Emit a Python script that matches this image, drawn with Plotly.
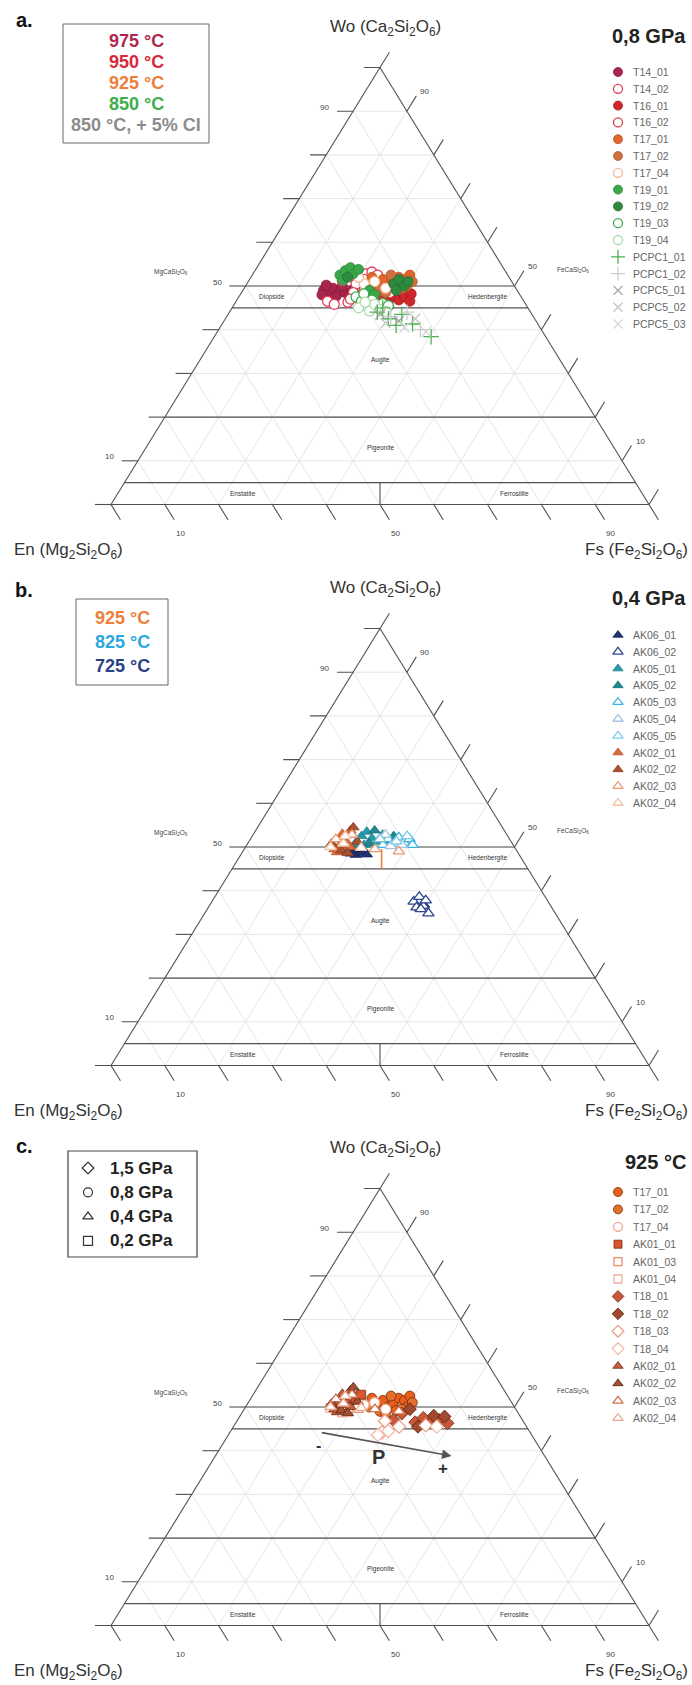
import plotly.graph_objects as go

W, H = 692, 1685
FONT = "Liberation Sans, Arial, Helvetica, sans-serif"

# ---------------- compositions (mol %): Wo and Fs, En = 100 - Wo - Fs ----------------
# panel a : 0,8 GPa
T14_01_wo = [49.0, 48.2, 49.5, 48.0, 49.2, 48.5, 47.8, 50.2, 47.6, 50.0, 49.0, 48.0]
T14_01_fs = [15.0, 16.4, 16.5, 18.0, 18.2, 19.3, 20.3, 14.9, 18.0, 18.0, 20.3, 15.2]
T14_02_wo = [46.5, 45.8, 46.3, 47.0, 52.8, 53.2, 52.5, 51.5, 50.5, 51.0, 51.2, 49.5]
T14_02_fs = [17.0, 18.6, 20.9, 22.5, 21.1, 21.9, 23.3, 21.3, 20.3, 25.0, 17.4, 23.3]
T16_01_wo = [47.5, 46.5, 47.8, 46.8, 47.5, 46.5, 48.2, 46.2, 49.0, 48.0]
T16_01_fs = [26.8, 28.3, 28.6, 30.1, 30.8, 32.3, 31.7, 26.4, 28.5, 22.5]
T16_02_wo = [48.5, 48.8, 47.2, 47.0, 48.5]
T16_02_fs = [20.8, 22.6, 25.2, 21.0, 27.6]
T17_01_wo = [50.5, 51.5, 50.0, 51.0, 52.0, 51.5, 52.5, 50.0, 49.2, 52.0]
T17_01_fs = [24.3, 24.8, 26.5, 27.0, 27.5, 28.8, 29.3, 30.0, 28.4, 22.5]
T17_02_wo = [49.0, 48.5, 49.5, 51.0, 52.5, 50.0]
T17_02_fs = [25.5, 26.8, 29.3, 30.5, 25.8, 23.0]
T17_04_wo = [50.5, 51.0, 49.5, 52.0]
T17_04_fs = [21.8, 23.5, 26.3, 20.0]
T19_01_wo = [52.5, 53.5, 54.2, 52.8, 51.3, 53.8, 49.0, 48.0]
T19_01_fs = [16.3, 16.8, 17.4, 18.6, 17.4, 19.1, 23.5, 25.0]
T19_02_wo = [50.5, 51.5, 50.0, 51.0, 49.0, 52.0]
T19_02_fs = [27.3, 27.8, 29.5, 29.7, 28.5, 18.0]
T19_03_wo = [47.5, 46.5, 45.5, 46.8, 45.2, 46.0, 45.5, 48.2]
T19_03_fs = [21.8, 23.3, 24.8, 25.1, 26.9, 27.5, 28.8, 22.9]
T19_04_wo = [45.0, 44.3, 45.8, 44.6, 46.3, 44.2]
T19_04_fs = [23.5, 25.9, 26.1, 27.7, 24.1, 28.9]
PCPC1_01_wo = [44.0, 42.5, 43.5, 41.3, 41.0, 38.4, 45.0]
PCPC1_01_fs = [27.5, 30.3, 32.3, 35.4, 32.5, 40.3, 28.0]
PCPC1_02_wo = [43.0, 40.0, 44.0]
PCPC1_02_fs = [30.5, 37.5, 33.0]
PCPC5_01_wo = [43.5, 42.0]
PCPC5_01_fs = [28.3, 32.5]
PCPC5_02_wo = [41.5, 42.5]
PCPC5_02_fs = [30.3, 35.3]
PCPC5_03_wo = [40.5, 39.5]
PCPC5_03_fs = [34.3, 38.8]

# panel b : 0,4 GPa
AK06_01_wo = [48.5, 48.2, 48.6, 48.3, 49.3, 49.5, 49.0, 36.0, 36.8]
AK06_01_fs = [20.3, 21.4, 22.2, 23.4, 20.4, 22.1, 19.3, 39.5, 39.8]
AK06_02_wo = [37.5, 38.6, 36.2, 36.5, 34.8, 35.8, 37.8]
AK06_02_fs = [37.5, 38.0, 38.7, 39.8, 41.6, 39.7, 39.6]
AK05_01_wo = [51.0, 52.5, 53.5, 52.0, 51.2, 50.5, 52.8]
AK05_01_fs = [20.0, 20.3, 20.8, 22.5, 23.9, 21.8, 24.1]
AK05_02_wo = [50.0, 50.8, 51.5, 52.5, 53.8]
AK05_02_fs = [21.0, 22.6, 25.8, 26.3, 22.1]
AK05_03_wo = [50.5, 51.8, 50.8, 52.2, 51.0, 51.8, 50.5]
AK05_03_fs = [25.3, 25.6, 27.1, 27.4, 29.0, 29.6, 30.8]
AK05_04_wo = [50.2, 50.5, 52.8]
AK05_04_fs = [26.9, 28.8, 24.6]
AK05_05_wo = [51.3, 52.5, 51.8]
AK05_05_fs = [27.4, 28.8, 24.1]
AK02_01_wo = [49.5, 50.5, 51.5, 48.8, 50.0, 52.3, 53.0, 53.8]
AK02_01_fs = [16.8, 17.3, 17.8, 17.6, 19.5, 16.9, 16.5, 17.6]
AK02_02_wo = [49.2, 48.6, 51.2, 50.8, 54.5]
AK02_02_fs = [18.2, 19.7, 20.2, 15.6, 17.8]
AK02_03_wo = [51.8, 52.8, 49.0, 49.5]
AK02_03_fs = [15.9, 18.4, 29.0, 24.3]
AK02_04_wo = [50.0, 50.8, 49.8, 52.5]
AK02_04_fs = [15.8, 17.8, 21.6, 17.3]
AK02_RANGE_wo = [49.5, 45.0]
AK02_RANGE_fs = [25.55, 27.8]

# panel c : 925 °C (T17 and AK02 shared with panels a and b)
AK01_01_wo = [50.5, 51.5, 50.2, 52.0, 51.0, 52.8]
AK01_01_fs = [16.3, 16.8, 18.4, 18.5, 20.0, 20.1]
AK01_03_wo = [49.5, 49.0, 49.8]
AK01_03_fs = [17.3, 19.5, 21.1]
AK01_04_wo = [49.8, 48.8]
AK01_04_fs = [15.9, 18.6]
T18_01_wo = [46.5, 47.5, 46.5, 47.0, 46.3, 48.5, 47.0]
T18_01_fs = [33.3, 34.3, 36.3, 37.5, 39.4, 29.8, 29.0]
T18_02_wo = [48.0, 47.8, 45.5, 49.5]
T18_02_fs = [36.0, 38.1, 34.3, 30.8]
T18_03_wo = [45.5, 45.8, 44.2, 46.8]
T18_03_fs = [30.8, 35.6, 28.3, 27.5]
T18_04_wo = [44.5, 45.5, 43.6]
T18_04_fs = [29.3, 37.8, 27.8]
P_ARROW_wo = [44.2, 38.8]
P_ARROW_fs = [16.8, 43.9]

# diagram furniture
GRID_VALS = [10, 20, 30, 40, 50, 60, 70, 80, 90]
TICK_VALS = [0, 10, 20, 30, 40, 50, 60, 70, 80, 90, 100]
LABEL_TICKS = [10, 50, 90]
BOUND_WO = [50, 45, 20, 5]
REGION_NAMES = ["Diopside", "Hedenbergite", "Augite", "Pigeonite", "Enstatite", "Ferrosilite"]
REGION_WO = [47.5, 47.5, 33.0, 13.0, 2.5, 2.5]
REGION_FS = [6.25, 46.25, 33.5, 43.5, 23.3, 73.8]
PANEL_LETTERS = ["a.", "b.", "c."]
PANEL_HEADS = ["0,8 GPa", "0,4 GPa", "925 °C"]
BOX_A_TEXT = ["975 °C", "950 °C", "925 °C", "850 °C", "850 °C, + 5% Cl"]
BOX_A_COLORS = ["#b0284e", "#d8283a", "#ee7e3a", "#3cae4a", "#8c8c8c"]
BOX_B_TEXT = ["925 °C", "825 °C", "725 °C"]
BOX_B_COLORS = ["#ee7e3a", "#2aa8e0", "#2b3f86"]
BOX_C_TEXT = ["1,5 GPa", "0,8 GPa", "0,4 GPa", "0,2 GPa"]
BOX_C_SYMBOLS = ["diamond-open", "circle-open", "triangle-up-open", "square-open"]

# ---------------- layout geometry (pixels) ----------------
SX, X0PX = 5.38, 111.0            # px per unit of (Fs + Wo/2), x of En corner
SY = 4.37                          # px per unit of Wo
WO50_PX = [286.0, 847.0, 1407.0]   # y of the Wo = 50 line in each panel
BASES = [p + 50 * SY for p in WO50_PX]
TOPPAD, BOTPAD = 62.0, 58.0


def filled(sym, fill, edge, size=10):
    return dict(symbol=sym, size=size, color=fill, line=dict(color=edge, width=0.8))


def hollow(sym, edge, size=10):
    return dict(symbol=sym, size=size, color="white", line=dict(color=edge, width=1.3))


def stroke(sym, edge, size=10):
    return dict(symbol=sym, size=size, color=edge, line=dict(color=edge, width=1.3))


SER_A = [
    ("T14_01", T14_01_wo, T14_01_fs, filled("circle", "#a8254c", "#861c3c")),
    ("T14_02", T14_02_wo, T14_02_fs, hollow("circle", "#e0405a")),
    ("T16_01", T16_01_wo, T16_01_fs, filled("circle", "#d0262c", "#a81c22")),
    ("T16_02", T16_02_wo, T16_02_fs, hollow("circle", "#d83a4a")),
    ("T17_01", T17_01_wo, T17_01_fs, filled("circle", "#e0662e", "#c0521e")),
    ("T17_02", T17_02_wo, T17_02_fs, filled("circle", "#d0703c", "#a85a2c")),
    ("T17_04", T17_04_wo, T17_04_fs, hollow("circle", "#f4b894")),
    ("T19_01", T19_01_wo, T19_01_fs, filled("circle", "#3aa84a", "#2c8a3a")),
    ("T19_02", T19_02_wo, T19_02_fs, filled("circle", "#2e8a3e", "#236e30")),
    ("T19_03", T19_03_wo, T19_03_fs, hollow("circle", "#3aa84a")),
    ("T19_04", T19_04_wo, T19_04_fs, hollow("circle", "#a8dca8")),
    ("PCPC1_01", PCPC1_01_wo, PCPC1_01_fs, stroke("cross-thin", "#4cb050", 11)),
    ("PCPC1_02", PCPC1_02_wo, PCPC1_02_fs, stroke("cross-thin", "#cccccc", 11)),
    ("PCPC5_01", PCPC5_01_wo, PCPC5_01_fs, stroke("x-thin", "#a0a0a0")),
    ("PCPC5_02", PCPC5_02_wo, PCPC5_02_fs, stroke("x-thin", "#c4c4c4")),
    ("PCPC5_03", PCPC5_03_wo, PCPC5_03_fs, stroke("x-thin", "#d4d4d4")),
]
SER_B = [
    ("AK06_01", AK06_01_wo, AK06_01_fs, filled("triangle-up", "#1f3270", "#1a2a5e")),
    ("AK06_02", AK06_02_wo, AK06_02_fs, hollow("triangle-up", "#2e4590")),
    ("AK05_01", AK05_01_wo, AK05_01_fs, filled("triangle-up", "#2a9aaa", "#1f8090")),
    ("AK05_02", AK05_02_wo, AK05_02_fs, filled("triangle-up", "#1d8890", "#166e76")),
    ("AK05_03", AK05_03_wo, AK05_03_fs, hollow("triangle-up", "#36b4e4")),
    ("AK05_04", AK05_04_wo, AK05_04_fs, hollow("triangle-up", "#a6c4e0")),
    ("AK05_05", AK05_05_wo, AK05_05_fs, hollow("triangle-up", "#78cce8")),
    ("AK02_01", AK02_01_wo, AK02_01_fs, filled("triangle-up", "#dc6a3a", "#b8542a")),
    ("AK02_02", AK02_02_wo, AK02_02_fs, filled("triangle-up", "#a85030", "#8a3e22")),
    ("AK02_03", AK02_03_wo, AK02_03_fs, hollow("triangle-up", "#e89a70")),
    ("AK02_04", AK02_04_wo, AK02_04_fs, hollow("triangle-up", "#f2c4a8")),
]
SER_C = [
    ("T17_01", T17_01_wo, T17_01_fs, filled("circle", "#e8601e", "#7a2a0c")),
    ("T17_02", T17_02_wo, T17_02_fs, filled("circle", "#e0702a", "#7a2a0c")),
    ("T17_04", T17_04_wo, T17_04_fs, hollow("circle", "#f2a88c")),
    ("AK01_01", AK01_01_wo, AK01_01_fs, filled("square", "#d8582e", "#7a2a0c", 9)),
    ("AK01_03", AK01_03_wo, AK01_03_fs, hollow("square", "#e88e66", 9)),
    ("AK01_04", AK01_04_wo, AK01_04_fs, hollow("square", "#f2b2a0", 9)),
    ("T18_01", T18_01_wo, T18_01_fs, filled("diamond", "#c85838", "#6a2a10")),
    ("T18_02", T18_02_wo, T18_02_fs, filled("diamond", "#a04830", "#5a2008")),
    ("T18_03", T18_03_wo, T18_03_fs, hollow("diamond", "#eca08c")),
    ("T18_04", T18_04_wo, T18_04_fs, hollow("diamond", "#f2bcac")),
    ("AK02_01", AK02_01_wo, AK02_01_fs, filled("triangle-up", "#c46040", "#6a2a10")),
    ("AK02_02", AK02_02_wo, AK02_02_fs, filled("triangle-up", "#a25034", "#5a2008")),
    ("AK02_03", AK02_03_wo, AK02_03_fs, hollow("triangle-up", "#d07050")),
    ("AK02_04", AK02_04_wo, AK02_04_fs, hollow("triangle-up", "#eaa890")),
]
SERIES = [SER_A, SER_B, SER_C]
LEG_Y0 = [72.0, 635.0, 1192.0]
LEG_DY = [16.8, 16.8, 17.4]
HEAD_Y = [36.0, 598.0, 1162.0]
LETTER_Y = [20.0, 590.0, 1146.0]


def proj(wo, fs):
    return [f + w / 2.0 for w, f in zip(wo, fs)], list(wo)


def seg_xy(pairs):
    xs, ys = [], []
    for (w1, f1), (w2, f2) in pairs:
        xs += [f1 + w1 / 2.0, f2 + w2 / 2.0, None]
        ys += [w1, w2, None]
    return xs, ys


fig = go.Figure()
ann = []
shapes = []

for k in range(3):
    xr = "x" if k == 0 else "x%d" % (k + 1)
    yr = "y" if k == 0 else "y%d" % (k + 1)

    grid = []
    for v in GRID_VALS:
        grid.append(((v, 0), (v, 100 - v)))
        grid.append(((0, v), (100 - v, v)))
        grid.append(((0, 100 - v), (100 - v, 0)))
    gx, gy = seg_xy(grid)
    fig.add_trace(go.Scatter(x=gx, y=gy, xaxis=xr, yaxis=yr, mode="lines",
                             line=dict(color="#e0e0e0", width=0.8), hoverinfo="skip", showlegend=False))

    frame = [((0, 0), (0, 100)), ((0, 0), (100, 0)), ((100, 0), (0, 100))]
    for v in BOUND_WO:
        frame.append(((v, 0), (v, 100 - v)))
    frame.append(((0, 50), (5, 47.5)))
    for v in TICK_VALS:
        frame.append(((v, 0), (v, -3)))
        frame.append(((v, 100 - v), (v + 3.5, 100 - v)))
        frame.append(((0, v), (-3.5, v + 3.5)))
    fx, fy = seg_xy(frame)
    fig.add_trace(go.Scatter(x=fx, y=fy, xaxis=xr, yaxis=yr, mode="lines",
                             line=dict(color="#505050", width=1.1), hoverinfo="skip", showlegend=False))

    if k == 1:
        rx, ry = proj(AK02_RANGE_wo, AK02_RANGE_fs)
        fig.add_trace(go.Scatter(x=rx, y=ry, xaxis=xr, yaxis=yr, mode="lines",
                                 line=dict(color="#e8823e", width=1.6), hoverinfo="skip", showlegend=False))

    for name, wo, fs, mk in SERIES[k]:
        px_, py_ = proj(wo, fs)
        fig.add_trace(go.Scatter(x=px_, y=py_, xaxis=xr, yaxis=yr, mode="markers", name=name,
                                 marker=mk, showlegend=False))

    small = dict(family=FONT, size=8, color="#444")
    for v in LABEL_TICKS:
        lx, ly = proj([v], [0])
        ann.append(dict(x=lx[0], y=ly[0], xref=xr, yref=yr, text=str(v), showarrow=False,
                        xanchor="right", xshift=-22, yshift=4, font=small))
        rx_, ry_ = proj([v + 3.5], [100 - v])
        ann.append(dict(x=rx_[0], y=ry_[0], xref=xr, yref=yr, text=str(v), showarrow=False,
                        xanchor="left", xshift=2, yshift=4, font=small))
        bx, by = proj([-3.5], [v + 3.5])
        ann.append(dict(x=bx[0], y=by[0], xref=xr, yref=yr, text=str(v), showarrow=False,
                        xanchor="center", xshift=6, yshift=-14, font=small))
    mx, my = proj([50], [0])
    ann.append(dict(x=mx[0], y=my[0], xref=xr, yref=yr, text="MgCaSi<sub>2</sub>O<sub>6</sub>",
                    showarrow=False, xshift=-75, yshift=14, font=dict(family=FONT, size=6.5, color="#444")))
    hx, hy = proj([50], [50])
    ann.append(dict(x=hx[0], y=hy[0], xref=xr, yref=yr, text="FeCaSi<sub>2</sub>O<sub>6</sub>",
                    showarrow=False, xshift=58, yshift=16, font=dict(family=FONT, size=6.5, color="#444")))
    tx_, ty_ = proj(REGION_WO, REGION_FS)
    for nm, a, b in zip(REGION_NAMES, tx_, ty_):
        ann.append(dict(x=a, y=b, xref=xr, yref=yr, text=nm, showarrow=False,
                        font=dict(family=FONT, size=6.5, color="#333")))

    base = BASES[k]
    apex = base - 100 * SY
    ann.append(dict(x=385, y=apex - 40, xref="x4", yref="y4",
                    text="Wo (Ca<sub>2</sub>Si<sub>2</sub>O<sub>6</sub>)", showarrow=False,
                    font=dict(family=FONT, size=17, color="#333")))
    ann.append(dict(x=12, y=base + 46, xref="x4", yref="y4", xanchor="left",
                    text="En (Mg<sub>2</sub>Si<sub>2</sub>O<sub>6</sub>)", showarrow=False,
                    font=dict(family=FONT, size=17, color="#333")))
    ann.append(dict(x=690, y=base + 46, xref="x4", yref="y4", xanchor="right",
                    text="Fs (Fe<sub>2</sub>Si<sub>2</sub>O<sub>6</sub>)", showarrow=False,
                    font=dict(family=FONT, size=17, color="#333")))
    ann.append(dict(x=24, y=LETTER_Y[k], xref="x4", yref="y4", text="<b>%s</b>" % PANEL_LETTERS[k],
                    showarrow=False, font=dict(family=FONT, size=20, color="#111")))
    ann.append(dict(x=688, y=HEAD_Y[k], xref="x4", yref="y4", xanchor="right",
                    text="<b>%s</b>" % PANEL_HEADS[k],
                    showarrow=False, font=dict(family=FONT, size=20, color="#222")))

    # sample legend
    for i, (name, wo, fs, mk) in enumerate(SERIES[k]):
        yy = LEG_Y0[k] + i * LEG_DY[k]
        lm = dict(mk)
        lm["size"] = mk["size"] - 1
        fig.add_trace(go.Scatter(x=[618], y=[yy], xaxis="x4", yaxis="y4", mode="markers",
                                 marker=lm, hoverinfo="skip", showlegend=False))
        ann.append(dict(x=631, y=yy, xref="x4", yref="y4", text=name, xanchor="left", showarrow=False,
                        font=dict(family=FONT, size=10.5, color="#666")))

# temperature / pressure boxes
shapes.append(dict(type="rect", xref="x4", yref="y4", x0=63, x1=209, y0=24, y1=143,
                   line=dict(color="#666", width=1)))
for i, (t, c) in enumerate(zip(BOX_A_TEXT, BOX_A_COLORS)):
    ann.append(dict(x=136, y=41 + 21 * i, xref="x4", yref="y4", text="<b>%s</b>" % t, showarrow=False,
                    font=dict(family=FONT, size=18, color=c)))
shapes.append(dict(type="rect", xref="x4", yref="y4", x0=76, x1=168, y0=599, y1=685,
                   line=dict(color="#666", width=1)))
for i, (t, c) in enumerate(zip(BOX_B_TEXT, BOX_B_COLORS)):
    ann.append(dict(x=122, y=618 + 24 * i, xref="x4", yref="y4", text="<b>%s</b>" % t, showarrow=False,
                    font=dict(family=FONT, size=18, color=c)))
shapes.append(dict(type="rect", xref="x4", yref="y4", x0=68, x1=197, y0=1151, y1=1257,
                   line=dict(color="#444", width=1.2)))
for i, (t, s) in enumerate(zip(BOX_C_TEXT, BOX_C_SYMBOLS)):
    yy = 1168 + 24.3 * i
    fig.add_trace(go.Scatter(x=[88], y=[yy], xaxis="x4", yaxis="y4", mode="markers",
                             marker=dict(symbol=s, size=9, color="#333", line=dict(color="#333", width=1.2)),
                             hoverinfo="skip", showlegend=False))
    ann.append(dict(x=108, y=yy, xref="x4", yref="y4", text="<b>%s</b>" % t, xanchor="left",
                    showarrow=False, font=dict(family=FONT, size=17, color="#222")))

# pressure arrow in panel c
ax_, ay_ = proj(P_ARROW_wo, P_ARROW_fs)
ann.append(dict(x=ax_[1], y=ay_[1], ax=ax_[0], ay=ay_[0], xref="x3", yref="y3", axref="x3", ayref="y3",
                text="", showarrow=True, arrowhead=2, arrowsize=1.2, arrowwidth=1.6, arrowcolor="#555"))
px0, py0 = proj([41.2, 38.5, 36.0], [18.0, 30.45, 43.7])
for t, a, b, s in zip(["-", "P", "+"], px0, py0, [16, 20, 17]):
    ann.append(dict(x=a, y=b, xref="x3", yref="y3", text="<b>%s</b>" % t, showarrow=False,
                    font=dict(family=FONT, size=s, color="#333")))

layout = dict(width=W, height=H, margin=dict(l=0, r=0, t=0, b=0), paper_bgcolor="white",
              plot_bgcolor="rgba(0,0,0,0)", showlegend=False, annotations=ann, shapes=shapes)
xr_rng = [-X0PX / SX, (W - X0PX) / SX]
for k in range(3):
    base = BASES[k]
    top_px = base - 100 * SY - TOPPAD
    bot_px = base + BOTPAD
    sfx = "" if k == 0 else str(k + 1)
    layout["xaxis" + sfx] = dict(domain=[0, 1], range=xr_rng, visible=False, fixedrange=True)
    layout["yaxis" + sfx] = dict(domain=[max(0.0, 1 - bot_px / H), min(1.0, 1 - top_px / H)],
                                 range=[-BOTPAD / SY, 100 + TOPPAD / SY], visible=False, fixedrange=True)
layout["xaxis4"] = dict(domain=[0, 1], range=[0, W], visible=False, fixedrange=True)
layout["yaxis4"] = dict(domain=[0, 1], range=[H, 0], visible=False, fixedrange=True)
fig.update_layout(**layout)
fig.write_html("out.html", config={"displayModeBar": False},
               post_script="document.body.style.margin='0px';document.body.style.overflow='hidden';")
